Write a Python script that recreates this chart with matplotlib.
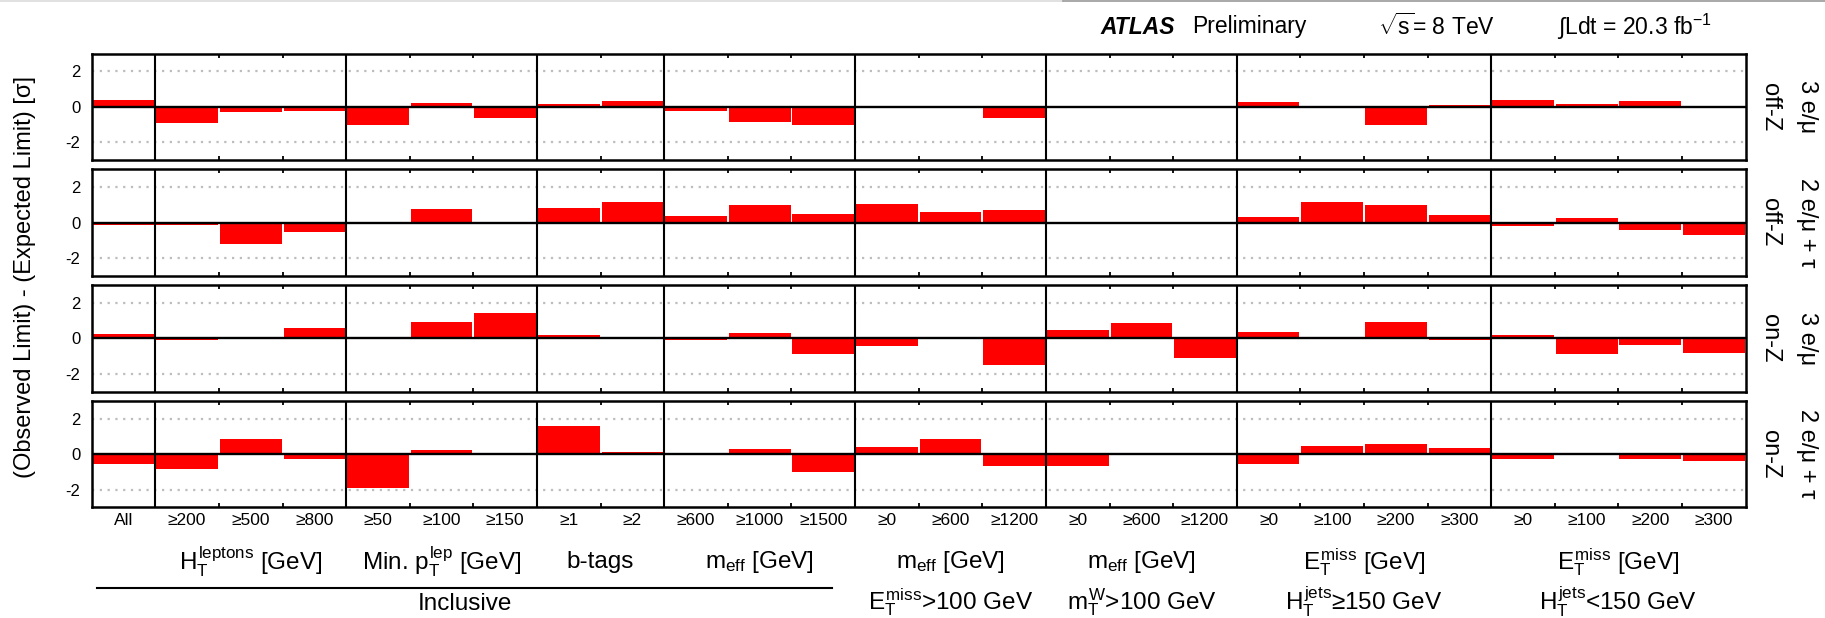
import numpy as np
import matplotlib
matplotlib.use('Agg')
import matplotlib.pyplot as plt
from matplotlib.lines import Line2D
from matplotlib.transforms import blended_transform_factory

plt.rcParams['font.family'] = ['Liberation Sans', 'DejaVu Sans']
plt.rcParams['mathtext.fontset'] = 'custom'
plt.rcParams['mathtext.rm'] = 'Liberation Sans'
plt.rcParams['mathtext.it'] = 'Liberation Sans'
plt.rcParams['mathtext.bf'] = 'Liberation Sans:bold'
plt.rcParams['mathtext.sf'] = 'Liberation Sans'

# signal-region bins
bin_labels = ['All', '≥200', '≥500', '≥800', '≥50', '≥100', '≥150', '≥1', '≥2',
              '≥600', '≥1000', '≥1500', '≥0', '≥600', '≥1200', '≥0', '≥600', '≥1200',
              '≥0', '≥100', '≥200', '≥300', '≥0', '≥100', '≥200', '≥300']
group_sizes = [1, 3, 3, 2, 3, 3, 3, 4, 4]
group_titles = ['', r'$H_T^{leptons}$ [GeV]', r'Min. $p_T^{lep}$ [GeV]', 'b-tags',
                r'$m_{eff}$ [GeV]', r'$m_{eff}$ [GeV]', r'$m_{eff}$ [GeV]',
                r'$E_T^{miss}$ [GeV]', r'$E_T^{miss}$ [GeV]']
selection_titles = [r'$E_T^{miss}$>100 GeV', r'$m_T^W$>100 GeV',
                    r'$H_T^{jets}$≥150 GeV', r'$H_T^{jets}$<150 GeV']

# channels (top to bottom)
channel_leptons = ['3 e/μ', '2 e/μ + τ', '3 e/μ', '2 e/μ + τ']
channel_z = ['off-Z', 'off-Z', 'on-Z', 'on-Z']

# (observed - expected) limit in sigma
off_z_3l = [0.4, -0.9, -0.3, -0.25, -1.0, 0.2, -0.65, 0.15, 0.34, -0.25, -0.88, -1.0,
            0.0, 0.0, -0.65, 0.0, 0.0, 0.0, 0.28, 0.0, -1.05, 0.09, 0.39, 0.17, 0.34, 0.0]
off_z_2l_tau = [-0.15, -0.15, -1.2, -0.53, 0.0, 0.75, 0.0, 0.81, 1.15, 0.36, 0.98, 0.47,
                1.04, 0.58, 0.7, 0.0, 0.0, 0.0, 0.3, 1.15, 0.98, 0.42, -0.2, 0.25, -0.4, -0.7]
on_z_3l = [0.24, -0.1, 0.0, 0.58, 0.05, 0.92, 1.42, 0.19, 0.0, -0.1, 0.3, -0.86,
           -0.45, 0.0, -1.48, 0.47, 0.86, -1.08, 0.36, 0.0, 0.92, -0.1, 0.19, -0.86, -0.36, -0.8]
on_z_2l_tau = [-0.54, -0.84, 0.84, -0.28, -1.89, 0.22, 0.0, 1.57, 0.11, 0.0, 0.28, -1.0,
               0.39, 0.84, -0.65, -0.65, 0.0, 0.0, -0.54, 0.45, 0.56, 0.34, -0.25, 0.0, -0.3, -0.37]
rows = [off_z_3l, off_z_2l_tau, on_z_3l, on_z_2l_tau]

W, H = 1825, 618
fig = plt.figure(figsize=(W / 100, H / 100), dpi=100)

n_bins = len(bin_labels)
centers = np.arange(n_bins) + 0.5
edges = np.cumsum(group_sizes)[:-1]

left, right = 91.7, 1745.7
top0, pitch, height = 53.5, 115.8, 106.5

axes = []
for i, vals in enumerate(rows):
    top = top0 + i * pitch
    ax = fig.add_axes([left / W, 1 - (top + height) / H, (right - left) / W, height / H])
    ax.bar(centers, vals, width=0.97, color='#ff0000', linewidth=0, zorder=2)
    ax.set_xlim(0, n_bins)
    ax.set_ylim(-3, 3)
    for y in (2, -2):
        ax.axhline(y, color='#bdbdbd', lw=1.6, ls=(0, (1, 2.5)), zorder=1)
    ax.axhline(0, color='black', lw=1.7, zorder=3)
    for e in edges:
        ax.axvline(e, color='black', lw=1.5, zorder=3)
    for sp in ax.spines.values():
        sp.set_linewidth(1.8)
        sp.set_zorder(4)
    ax.set_xticks(centers)
    ax.set_xticks(np.arange(1, n_bins), minor=True)
    ax.tick_params(axis='x', which='major', length=0, labelsize=12.5, pad=4)
    ax.tick_params(axis='x', which='minor', direction='in', top=True, bottom=True,
                   length=3, width=1.3)
    ax.set_yticks([-2, 0, 2])
    ax.set_yticklabels(['-2', '0', '2'])
    ax.tick_params(axis='y', length=0, labelsize=12, pad=8)
    if i < len(rows) - 1:
        ax.set_xticklabels([])
    else:
        ax.set_xticklabels(bin_labels)
    # channel labels on the right
    yc = 1 - (top + height / 2) / H
    fig.text(1807 / W, yc, channel_leptons[i], rotation=-90, ha='center', va='center',
             fontsize=17)
    fig.text(1770 / W, yc, channel_z[i], rotation=-90, ha='center', va='center',
             fontsize=17)
    axes.append(ax)

bottom_ax = axes[-1]
trans = blended_transform_factory(bottom_ax.transData, fig.transFigure)
starts = np.concatenate([[0], edges])
for s, n, title in zip(starts, group_sizes, group_titles):
    if title:
        bottom_ax.text(s + n / 2, 1 - 562 / H, title, transform=trans,
                       ha='center', va='center', fontsize=17.5)

# inclusive selections share one caption under a rule
fig.add_artist(Line2D([97 / W, 832 / W], [1 - 588 / H] * 2, color='black', lw=1.5))
fig.text(464.5 / W, 1 - 604 / H, 'Inclusive', ha='center', va='center', fontsize=17.5)
for s, n, title in zip(starts[5:], group_sizes[5:], selection_titles):
    bottom_ax.text(s + n / 2, 1 - 602 / H, title, transform=trans,
                   ha='center', va='center', fontsize=17.5)

fig.text(25 / W, 1 - 277 / H,
         '(Observed Limit) - (Expected Limit) [σ]', rotation=90,
         ha='center', va='center', fontsize=17)

# header
hy = 1 - 27 / H
fig.text(1100 / W, hy, 'ATLAS', fontsize=16.5, fontweight='bold', fontstyle='italic',
         ha='left', va='center')
fig.text(1192 / W, hy, 'Preliminary', fontsize=16.5, ha='left', va='center')
fig.text(1378 / W, hy, r'$\sqrt{s}$= 8 TeV', fontsize=16.5, ha='left', va='center')
fig.text(1557 / W, hy, r'$\int$Ldt = 20.3 fb$^{-1}$', fontsize=16.5, ha='left', va='center')

fig.add_artist(Line2D([0, 1063 / W], [1 - 0.8 / H] * 2, color='#dcdcdc', lw=1.2))
fig.add_artist(Line2D([1063 / W, 1], [1 - 0.8 / H] * 2, color='#9a9a9a', lw=1.2))

fig.savefig('out.png', dpi=100)
